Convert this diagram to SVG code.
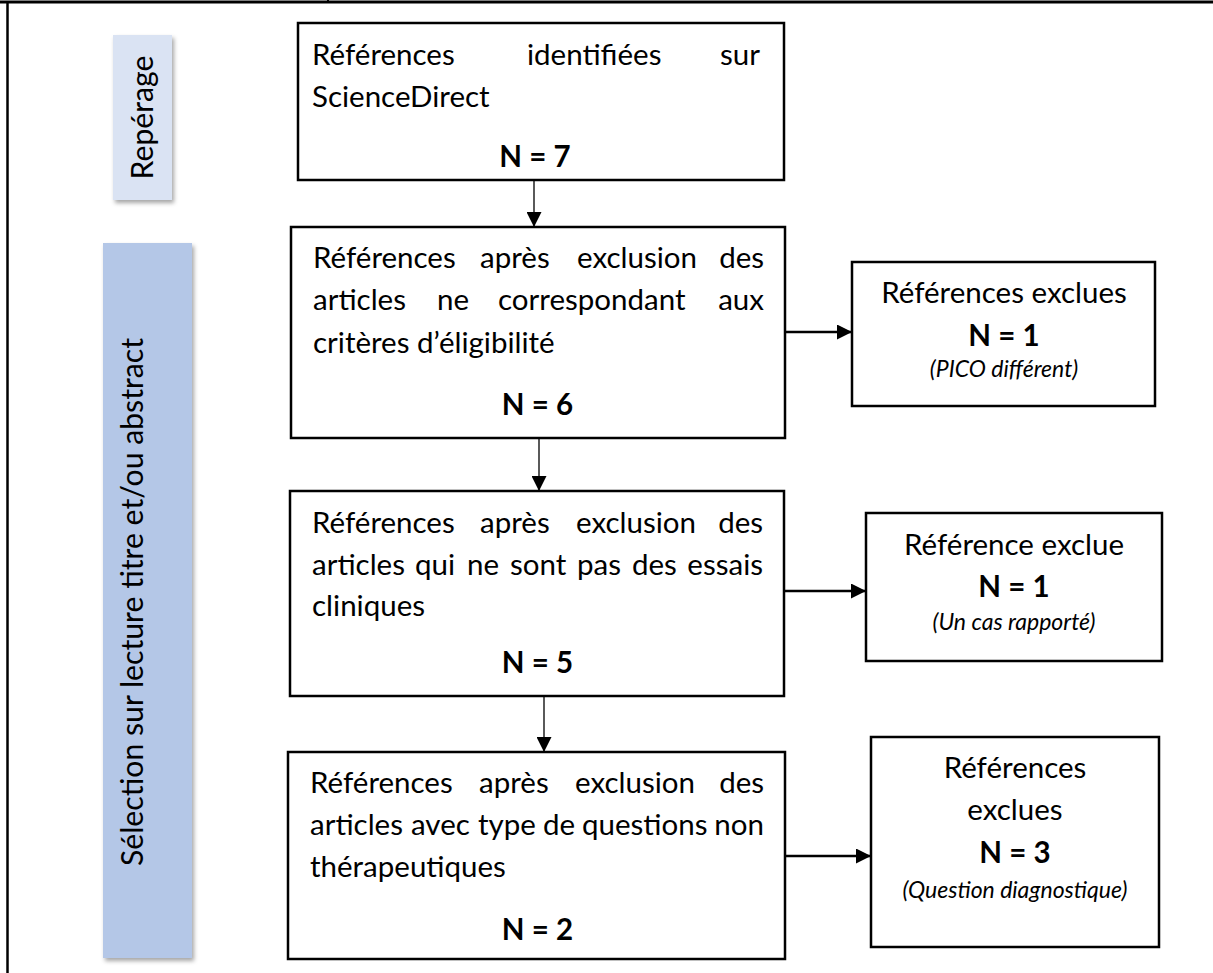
<svg xmlns="http://www.w3.org/2000/svg" width="1213" height="973" viewBox="0 0 1213 973">
<style>
.box{fill:#fff;stroke:#000;stroke-width:2.5}
.t{font-family:Lato,"Open Sans","Liberation Sans",sans-serif;font-size:29.5px;fill:#000}
.lt{font-size:30.2px}
.c{text-anchor:middle}
.e{text-anchor:end}
.b{font-weight:bold}
.i{font-style:italic;font-size:23px}
.thin{stroke:#000;stroke-width:1.3;fill:none}
.thick{stroke:#000;stroke-width:2.5;fill:none}
.lab1{fill:#DAE3F3}
.lab2{fill:#B4C7E7}
</style>
<defs>
<filter id="sh" x="-20%" y="-5%" width="150%" height="115%">
<feDropShadow dx="2" dy="3" stdDeviation="2" flood-color="#000" flood-opacity="0.35"/>
</filter>
<marker id="ah" viewBox="0 0 10 10" refX="10" refY="5" markerWidth="15" markerHeight="15" markerUnits="userSpaceOnUse" orient="auto">
<path d="M0,0 L10,5 L0,10 z" fill="#000"/>
</marker>
</defs>

<g id="frame">
<line x1="0" y1="2" x2="1213" y2="2" stroke="#000" stroke-width="3"/>
<line x1="328" y1="0" x2="328" y2="3" stroke="#000" stroke-width="2"/>
<line x1="7.5" y1="2" x2="7.5" y2="973" stroke="#000" stroke-width="2.5"/>
</g>

<g id="label-reperage">
<rect class="lab1" x="113" y="35" width="59" height="165" filter="url(#sh)"/>
<text class="t lt c" transform="translate(153,117.5) rotate(-90)">Repérage</text>
</g>

<g id="label-selection">
<rect class="lab2" x="103" y="243" width="89" height="715" filter="url(#sh)"/>
<text class="t lt c" transform="translate(143,602) rotate(-90)">Sélection sur lecture titre et/ou abstract</text>
</g>

<g id="box1">
<rect class="box" x="298" y="23" width="486" height="157"/>
<text class="t" x="312" y="65">Références</text>
<text class="t" x="527" y="65">identifiées</text>
<text class="t e" x="760" y="65">sur</text>
<text class="t" x="312" y="107">ScienceDirect</text>
<text class="t b c" x="535" y="167">N = 7</text>
</g>

<g id="box2">
<rect class="box" x="291" y="227" width="494" height="211"/>
<text class="t" x="313" y="268">Références</text>
<text class="t" x="480" y="268">après</text>
<text class="t" x="577" y="268">exclusion</text>
<text class="t e" x="764" y="268">des</text>
<text class="t" x="313" y="310">articles</text>
<text class="t" x="437" y="310">ne</text>
<text class="t" x="498" y="310">correspondant</text>
<text class="t e" x="764" y="310">aux</text>
<text class="t" x="313" y="353">critères d’éligibilité</text>
<text class="t b c" x="537.5" y="415">N = 6</text>
</g>

<g id="excl1">
<rect class="box" x="852" y="262" width="303" height="144"/>
<text class="t c" x="1004" y="303">Références exclues</text>
<text class="t b c" x="1004" y="346">N = 1</text>
<text class="t i c" x="1004" y="377">(PICO différent)</text>
</g>

<g id="box3">
<rect class="box" x="290" y="491" width="494" height="205"/>
<text class="t" x="312" y="533">Références</text>
<text class="t" x="480" y="533">après</text>
<text class="t" x="576" y="533">exclusion</text>
<text class="t e" x="763" y="533">des</text>
<text class="t" x="312" y="575">articles</text>
<text class="t" x="415" y="575">qui</text>
<text class="t" x="467" y="575">ne</text>
<text class="t" x="510" y="575">sont</text>
<text class="t" x="577" y="575">pas</text>
<text class="t" x="632" y="575">des</text>
<text class="t e" x="763" y="575">essais</text>
<text class="t" x="312" y="616">cliniques</text>
<text class="t b c" x="537.5" y="673">N = 5</text>
</g>

<g id="excl2">
<rect class="box" x="866" y="513" width="296" height="148"/>
<text class="t c" x="1014" y="555">Référence exclue</text>
<text class="t b c" x="1014" y="597">N = 1</text>
<text class="t i c" x="1014" y="630">(Un cas rapporté)</text>
</g>

<g id="box4">
<rect class="box" x="288" y="752" width="497" height="207"/>
<text class="t" x="310" y="793">Références</text>
<text class="t" x="479" y="793">après</text>
<text class="t" x="575" y="793">exclusion</text>
<text class="t e" x="764" y="793">des</text>
<text class="t" x="310" y="835">articles</text>
<text class="t" x="411" y="835">avec</text>
<text class="t" x="478" y="835">type</text>
<text class="t" x="543" y="835">de</text>
<text class="t" x="582" y="835">questions</text>
<text class="t e" x="764" y="835">non</text>
<text class="t" x="310" y="877">thérapeutiques</text>
<text class="t b c" x="537.5" y="940">N = 2</text>
</g>

<g id="excl3">
<rect class="box" x="871" y="737" width="288" height="210"/>
<text class="t c" x="1015" y="778">Références</text>
<text class="t c" x="1015" y="820">exclues</text>
<text class="t b c" x="1015" y="863">N = 3</text>
<text class="t i c" x="1015" y="898">(Question diagnostique)</text>
</g>

<g id="connectors">
<line class="thin" x1="534" y1="180" x2="534" y2="227" marker-end="url(#ah)"/>
<line class="thin" x1="539" y1="438" x2="539" y2="491" marker-end="url(#ah)"/>
<line class="thin" x1="544" y1="696" x2="544" y2="752" marker-end="url(#ah)"/>
<line class="thick" x1="785" y1="332" x2="852" y2="332" marker-end="url(#ah)"/>
<line class="thick" x1="784" y1="591" x2="866" y2="591" marker-end="url(#ah)"/>
<line class="thick" x1="785" y1="856" x2="871" y2="856" marker-end="url(#ah)"/>
</g>
</svg>
